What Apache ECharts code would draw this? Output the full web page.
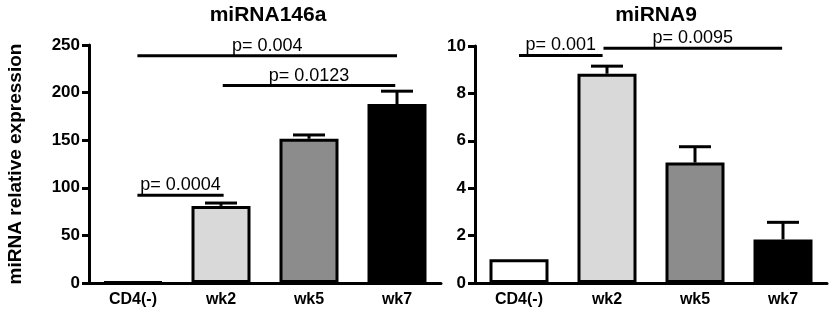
<!DOCTYPE html>
<html>
<head>
<meta charset="utf-8">
<script src="https://cdn.jsdelivr.net/npm/echarts@6/dist/echarts.min.js"></script>
<style>
    html, body { margin: 0; padding: 0; background: #fff; }
    #main { width: 829px; height: 312px; }
</style>
</head>
<body>
<div id="main"></div>
<script>
// data
var groups = ['CD4(-)', 'wk2', 'wk5', 'wk7'];

var mir146Mean = [1, 81, 151.5, 188];
var mir146Err = [0, 3, 4, 13.5];

var mir9Mean = [1.0, 8.83, 5.08, 1.84];
var mir9Err = [0, 0.32, 0.67, 0.72];

// significance bars: [from, to, y, text]  (from / to in category units)
var mir146Sig = [
    [0.05, 3.0, 238.6, 'p= 0.004'],
    [1.02, 2.98, 207.4, 'p= 0.0123'],
    [0.05, 1.03, 92.1, 'p= 0.0004']
];
var mir9Sig = [
    [0.0, 0.95, 9.6, 'p= 0.001'],
    [0.96, 2.99, 9.9, 'p= 0.0095']
];

var fills = ['#ffffff', '#d9d9d9', '#8c8c8c', '#000000'];
var font = 'Liberation Sans, Arial, sans-serif';

var dom = document.getElementById('main');
var myChart = echarts.init(dom, null, {renderer: 'canvas'});

function errRender(params, api) {
    var x = api.value(0), v = api.value(1), e = api.value(2);
    if (!e) {
        return null;
    }
    var p0 = api.coord([x, v]);
    var p1 = api.coord([x, v + e]);
    return {
        type: 'group',
        children: [
            {type: 'line', shape: {x1: p0[0], y1: p0[1], x2: p1[0], y2: p1[1]}, style: {stroke: '#000', lineWidth: 3}},
            {type: 'line', shape: {x1: p1[0] - 16, y1: p1[1], x2: p1[0] + 16, y2: p1[1]}, style: {stroke: '#000', lineWidth: 3}}
        ]
    };
}

function sigRender(list) {
    return function (params, api) {
        var s = list[params.dataIndex];
        var bw = api.size([1, 0])[0];
        var a = Math.round(s[0]), b = Math.round(s[1]);
        var pa = api.coord([a, s[2]]);
        var pb = api.coord([b, s[2]]);
        var x1 = pa[0] + (s[0] - a) * bw;
        var x2 = pb[0] + (s[1] - b) * bw;
        return {
            type: 'group',
            children: [
                {type: 'line', shape: {x1: x1, y1: pa[1], x2: x2, y2: pa[1]}, style: {stroke: '#000', lineWidth: 3}},
                {
                    type: 'text',
                    style: {
                        text: s[3], x: (x1 + x2) / 2, y: pa[1] - 1,
                        align: 'center', verticalAlign: 'bottom',
                        fontSize: 18, fontFamily: font, fill: '#000'
                    }
                }
            ]
        };
    };
}

function xAxisOpt(idx) {
    return {
        type: 'category',
        gridIndex: idx,
        data: groups,
        axisLine: {lineStyle: {color: '#000', width: 3}},
        axisTick: {alignWithLabel: true, length: 7, lineStyle: {width: 3}},
        axisLabel: {color: '#000', fontSize: 16, fontWeight: 'bold', fontFamily: font, margin: 9},
        splitLine: {show: false}
    };
}

function yAxisOpt(idx, max, interval, name) {
    return {
        type: 'value',
        gridIndex: idx,
        min: 0,
        max: max,
        interval: interval,
        name: name,
        nameLocation: 'middle',
        nameGap: 64,
        nameTextStyle: {color: '#000', fontSize: 19, fontWeight: 'bold', fontFamily: font},
        axisLine: {show: true, lineStyle: {color: '#000', width: 3}},
        axisTick: {show: true, length: 7, lineStyle: {width: 3}},
        axisLabel: {color: '#000', fontSize: 17, fontWeight: 'bold', fontFamily: font, margin: 9},
        splitLine: {show: false}
    };
}

function barSeries(idx, values) {
    return {
        type: 'bar',
        xAxisIndex: idx,
        yAxisIndex: idx,
        barWidth: 59,
        data: values,
        itemStyle: {
            color: function (p) { return fills[p.dataIndex]; },
            borderColor: '#000',
            borderWidth: 3
        },
        silent: true
    };
}

option = {
    animation: false,
    textStyle: {fontFamily: font},
    title: [
        {text: 'miRNA146a', left: 263, top: 0, textAlign: 'center',
            textStyle: {fontSize: 21, fontWeight: 'bold', color: '#000', fontFamily: font}},
        {text: 'miRNA9', left: 651, top: 0, textAlign: 'center',
            textStyle: {fontSize: 21, fontWeight: 'bold', color: '#000', fontFamily: font}}
    ],
    grid: [
        {left: 89, top: 45, width: 352, height: 238},
        {left: 475, top: 46, width: 352, height: 237}
    ],
    xAxis: [xAxisOpt(0), xAxisOpt(1)],
    yAxis: [
        yAxisOpt(0, 250, 50, 'miRNA relative expression'),
        yAxisOpt(1, 10, 2, '')
    ],
    series: [
        barSeries(0, mir146Mean),
        barSeries(1, mir9Mean),
        {
            type: 'custom', xAxisIndex: 0, yAxisIndex: 0, z: 3,
            renderItem: errRender,
            data: mir146Mean.map(function (v, i) { return [i, v, mir146Err[i]]; })
        },
        {
            type: 'custom', xAxisIndex: 1, yAxisIndex: 1, z: 3,
            renderItem: errRender,
            data: mir9Mean.map(function (v, i) { return [i, v, mir9Err[i]]; })
        },
        {
            type: 'custom', xAxisIndex: 0, yAxisIndex: 0, z: 4,
            renderItem: sigRender(mir146Sig),
            data: mir146Sig.map(function (s) { return [Math.round(s[0]), s[2]]; })
        },
        {
            type: 'custom', xAxisIndex: 1, yAxisIndex: 1, z: 4,
            renderItem: sigRender(mir9Sig),
            data: mir9Sig.map(function (s) { return [Math.round(s[0]), s[2]]; })
        }
    ]
};

if (option && typeof option === "object") {
    myChart.setOption(option, true);
}
</script>
</body>
</html>
